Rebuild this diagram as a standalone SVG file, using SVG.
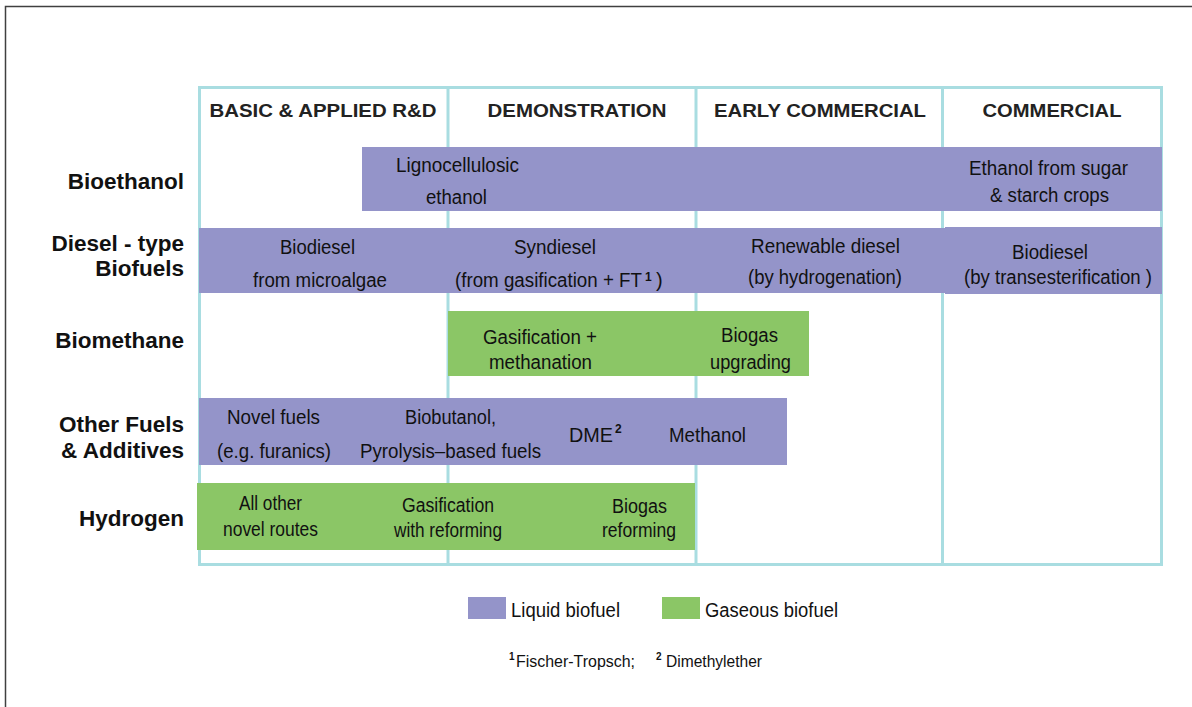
<svg xmlns="http://www.w3.org/2000/svg" width="1192" height="707" viewBox="0 0 1192 707">
<style>
.frame{fill:none;stroke:#404040;stroke-width:1.5}
.grid{fill:none;stroke:#A9DDE1;stroke-width:3}
.liq{fill:#9494C9}
.gas{fill:#8BC666}
.hdr{font-family:"Liberation Sans",Arial,sans-serif;font-weight:bold;font-size:19px;fill:#222;text-anchor:middle}
.row{font-family:"Liberation Sans",Arial,sans-serif;font-weight:bold;font-size:22.5px;fill:#111;text-anchor:end}
.t{font-family:"Liberation Sans",Arial,sans-serif;font-size:20px;fill:#111;text-anchor:middle}
.ts{font-family:"Liberation Sans",Arial,sans-serif;font-size:20px;fill:#111}
.sup{font-family:"Liberation Sans",Arial,sans-serif;font-size:12px;font-weight:bold;fill:#111}
.fn{font-family:"Liberation Sans",Arial,sans-serif;font-size:16px;fill:#111}
.supf{font-family:"Liberation Sans",Arial,sans-serif;font-size:10px;font-weight:bold;fill:#111}
</style>
<rect class="frame" x="5.5" y="6.5" width="1200" height="720"/>
<g id="grid">
<rect class="grid" x="199.5" y="87.5" width="962" height="477"/>
<line class="grid" x1="448" y1="87.5" x2="448" y2="564.5"/>
<line class="grid" x1="696" y1="87.5" x2="696" y2="564.5"/>
<line class="grid" x1="942.5" y1="87.5" x2="942.5" y2="564.5"/>
</g>
<g id="headers">
<text class="hdr" x="323" y="116.5" textLength="227" lengthAdjust="spacingAndGlyphs">BASIC &amp; APPLIED R&amp;D</text>
<text class="hdr" x="577" y="116.5" textLength="179" lengthAdjust="spacingAndGlyphs">DEMONSTRATION</text>
<text class="hdr" x="820" y="116.5" textLength="212" lengthAdjust="spacingAndGlyphs">EARLY COMMERCIAL</text>
<text class="hdr" x="1052" y="116.5" textLength="139" lengthAdjust="spacingAndGlyphs">COMMERCIAL</text>
</g>
<g id="row-labels">
<text class="row" x="184" y="188.5">Bioethanol</text>
<text class="row" x="184" y="251">Diesel - type</text>
<text class="row" x="184" y="275.5">Biofuels</text>
<text class="row" x="184" y="348">Biomethane</text>
<text class="row" x="184" y="432">Other Fuels</text>
<text class="row" x="184" y="458">&amp; Additives</text>
<text class="row" x="184" y="526">Hydrogen</text>
</g>
<g id="bioethanol">
<rect class="liq" x="362" y="147" width="800" height="64"/>
<text class="t" x="457.5" y="171.5" textLength="123" lengthAdjust="spacingAndGlyphs">Lignocellulosic</text>
<text class="t" x="456.5" y="204" textLength="61" lengthAdjust="spacingAndGlyphs">ethanol</text>
<text class="t" x="1048.5" y="175" textLength="159" lengthAdjust="spacingAndGlyphs">Ethanol from sugar</text>
<text class="t" x="1049.5" y="201.5" textLength="119" lengthAdjust="spacingAndGlyphs">&amp; starch crops</text>
</g>
<g id="diesel">
<rect class="liq" x="199" y="228" width="747" height="65"/>
<rect class="liq" x="945" y="227" width="217" height="67"/>
<text class="t" x="317.5" y="253.5" textLength="75" lengthAdjust="spacingAndGlyphs">Biodiesel</text>
<text class="t" x="320" y="286.5" textLength="134" lengthAdjust="spacingAndGlyphs">from microalgae</text>
<text class="t" x="555" y="253.5" textLength="82" lengthAdjust="spacingAndGlyphs">Syndiesel</text>
<text class="ts" x="455" y="286.5" textLength="187" lengthAdjust="spacingAndGlyphs">(from gasification + FT</text>
<text class="sup" x="645" y="281">1</text>
<text class="ts" x="656" y="286.5">)</text>
<text class="t" x="825.5" y="252.5" textLength="149" lengthAdjust="spacingAndGlyphs">Renewable diesel</text>
<text class="t" x="825" y="283.5" textLength="154" lengthAdjust="spacingAndGlyphs">(by hydrogenation)</text>
<text class="t" x="1050" y="258.5" textLength="76" lengthAdjust="spacingAndGlyphs">Biodiesel</text>
<text class="t" x="1058" y="283.5" textLength="188" lengthAdjust="spacingAndGlyphs">(by transesterification )</text>
</g>
<g id="biomethane">
<rect class="gas" x="448" y="311" width="361" height="65"/>
<text class="t" x="540" y="343.5" textLength="114" lengthAdjust="spacingAndGlyphs">Gasification +</text>
<text class="t" x="540.5" y="368.5" textLength="103" lengthAdjust="spacingAndGlyphs">methanation</text>
<text class="t" x="749.5" y="341.5" textLength="57" lengthAdjust="spacingAndGlyphs">Biogas</text>
<text class="t" x="750.5" y="368.5" textLength="81" lengthAdjust="spacingAndGlyphs">upgrading</text>
</g>
<g id="other-fuels">
<rect class="liq" x="199" y="398" width="588" height="67"/>
<text class="t" x="273.5" y="424" textLength="93" lengthAdjust="spacingAndGlyphs">Novel fuels</text>
<text class="t" x="274" y="458" textLength="114" lengthAdjust="spacingAndGlyphs">(e.g. furanics)</text>
<text class="t" x="450.5" y="424" textLength="91" lengthAdjust="spacingAndGlyphs">Biobutanol,</text>
<text class="t" x="450.5" y="458" textLength="181" lengthAdjust="spacingAndGlyphs">Pyrolysis–based fuels</text>
<text class="ts" x="569" y="442" textLength="44" lengthAdjust="spacingAndGlyphs">DME</text>
<text class="sup" x="615" y="433">2</text>
<text class="t" x="707.5" y="442" textLength="77" lengthAdjust="spacingAndGlyphs">Methanol</text>
</g>
<g id="hydrogen">
<rect class="gas" x="197" y="483" width="498" height="67"/>
<text class="t" x="270.5" y="510" textLength="63" lengthAdjust="spacingAndGlyphs">All other</text>
<text class="t" x="270.5" y="536" textLength="95" lengthAdjust="spacingAndGlyphs">novel routes</text>
<text class="t" x="448" y="511.5" textLength="92" lengthAdjust="spacingAndGlyphs">Gasification</text>
<text class="t" x="448" y="537" textLength="108" lengthAdjust="spacingAndGlyphs">with reforming</text>
<text class="t" x="639.5" y="512.5" textLength="55" lengthAdjust="spacingAndGlyphs">Biogas</text>
<text class="t" x="639" y="537" textLength="74" lengthAdjust="spacingAndGlyphs">reforming</text>
</g>
<g id="legend">
<rect class="liq" x="468" y="597" width="38" height="22"/>
<text class="ts" x="511" y="616.5" textLength="109" lengthAdjust="spacingAndGlyphs">Liquid biofuel</text>
<rect class="gas" x="662" y="597" width="38" height="22"/>
<text class="ts" x="705" y="616.5" textLength="133" lengthAdjust="spacingAndGlyphs">Gaseous biofuel</text>
</g>
<g id="footnote">
<text class="supf" x="509" y="660">1</text>
<text class="fn" x="516" y="666.5" textLength="119" lengthAdjust="spacingAndGlyphs">Fischer-Tropsch;</text>
<text class="supf" x="656" y="660">2</text>
<text class="fn" x="666" y="666.5" textLength="96" lengthAdjust="spacingAndGlyphs">Dimethylether</text>
</g>
</svg>
